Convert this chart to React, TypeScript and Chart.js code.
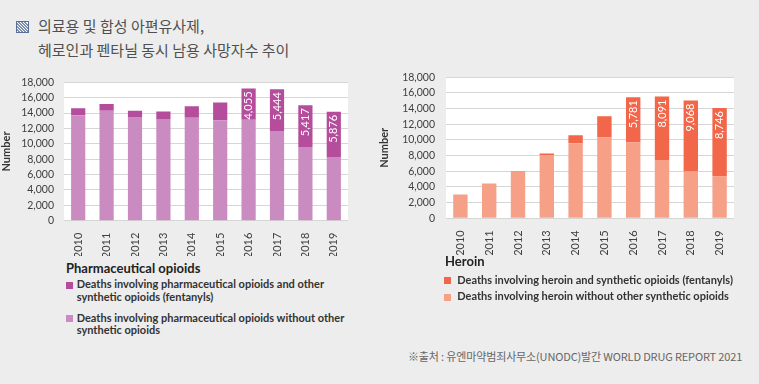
import React, { useEffect, useRef } from 'react';
import { Chart, registerables } from 'chart.js';

Chart.register(...registerables);

const years = ['2010', '2011', '2012', '2013', '2014', '2015', '2016', '2017', '2018', '2019'];
const pharmaWithout = [13700, 14300, 13490, 13230, 13400, 13060, 13140, 11660, 9600, 8290];
const pharmaWithFentanyl = [940, 890, 810, 980, 1490, 2300, 4055, 5444, 5417, 5876];
const heroinWithout = [3050, 4430, 5900, 8060, 9570, 10320, 9680, 7450, 5970, 5330];
const heroinWithFentanyl = [0, 0, 80, 210, 1040, 2710, 5781, 8091, 9068, 8746];
const labeledYears = ['2016', '2017', '2018', '2019'];
const yMax = 18000;
const yStep = 2000;

const LATIN = "Lato, 'Open Sans', sans-serif";
const KR = "'Noto Sans CJK KR', sans-serif";

const plotBg = {
  id: 'plotBg',
  beforeDraw(chart: any) {
    const { ctx, chartArea } = chart;
    ctx.save();
    ctx.fillStyle = '#ffffff';
    ctx.fillRect(chartArea.left, chartArea.top, chartArea.right - chartArea.left, chartArea.bottom - chartArea.top);
    ctx.restore();
  },
};

const segLabels = {
  id: 'segLabels',
  afterDatasetsDraw(chart: any) {
    const ctx = chart.ctx;
    const meta = chart.getDatasetMeta(1);
    const data = chart.data.datasets[1].data as number[];
    meta.data.forEach((bar: any, i: number) => {
      if (!labeledYears.includes(chart.data.labels[i])) return;
      ctx.save();
      ctx.translate(bar.x, bar.y + 3);
      ctx.rotate(-Math.PI / 2);
      ctx.textAlign = 'right';
      ctx.textBaseline = 'middle';
      ctx.fillStyle = '#ffffff';
      ctx.font = `11px ${LATIN}`;
      ctx.fillText(data[i].toLocaleString('en-US'), 0, 0);
      ctx.restore();
    });
  },
};

type Props = {
  left: number; top: number; width: number; height: number;
  lower: number[]; upper: number[];
  lowerLabel: string; upperLabel: string;
  lowerColor: string; upperColor: string;
  yAxisWidth: number; xAxisHeight: number;
  padTop: number; padRight: number; titlePad: number; tickPad: number;
};

function StackChart(p: Props) {
  const ref = useRef<HTMLCanvasElement>(null);
  useEffect(() => {
    const chart = new Chart(ref.current as HTMLCanvasElement, {
      type: 'bar',
      data: {
        labels: years,
        datasets: [
          { label: p.lowerLabel, data: p.lower, backgroundColor: p.lowerColor, stack: 's' },
          { label: p.upperLabel, data: p.upper, backgroundColor: p.upperColor, stack: 's' },
        ],
      },
      options: {
        animation: false,
        responsive: false,
        maintainAspectRatio: false,
        locale: 'en-US',
        layout: { padding: { top: p.padTop, right: p.padRight, bottom: 0, left: 0 } },
        datasets: { bar: { barPercentage: 0.5, categoryPercentage: 1 } },
        plugins: { legend: { display: false }, tooltip: { enabled: false } },
        scales: {
          x: {
            stacked: true,
            grid: { display: false },
            border: { display: false },
            ticks: {
              minRotation: 90, maxRotation: 90, padding: 4, autoSkip: false,
              color: '#404040', font: { family: LATIN, size: 11 },
            },
            afterFit: (s: any) => { s.height = p.xAxisHeight; },
          },
          y: {
            stacked: true,
            min: 0,
            max: yMax,
            ticks: {
              stepSize: yStep, autoSkip: false, padding: p.tickPad,
              color: '#404040', font: { family: LATIN, size: 10.5 },
            },
            grid: { color: '#d6d6d6', drawTicks: false },
            border: { display: false },
            title: {
              display: true, text: 'Number', color: '#333333',
              font: { family: LATIN, size: 11, weight: 'bold' },
              padding: { top: p.titlePad, bottom: 0 },
            },
            afterFit: (s: any) => { s.width = p.yAxisWidth; },
          },
        },
      } as any,
      plugins: [plotBg, segLabels],
    });
    return () => chart.destroy();
  }, []);
  return (
    <canvas
      ref={ref}
      width={p.width}
      height={p.height}
      style={{ position: 'absolute', left: p.left, top: p.top, width: p.width, height: p.height }}
    />
  );
}

const legendText: React.CSSProperties = {
  position: 'absolute', fontFamily: LATIN, fontWeight: 700, fontSize: 11,
  lineHeight: '12.7px', color: '#333333', whiteSpace: 'nowrap',
};
const legendTitle: React.CSSProperties = {
  position: 'absolute', fontFamily: LATIN, fontWeight: 700, fontSize: 13,
  lineHeight: '15px', color: '#222222', whiteSpace: 'nowrap',
};
const sq = (left: number, top: number, color: string): React.CSSProperties => ({
  position: 'absolute', left, top, width: 7, height: 7, background: color,
});

export default function App() {
  return (
    <div style={{ position: 'fixed', left: 0, top: 0, width: 759, height: 384, background: '#ededed', overflow: 'hidden' }}>
      <div style={{
        position: 'absolute', left: 16, top: 21, width: 11, height: 10,
        border: '1px solid #5b6f95',
        background: 'repeating-linear-gradient(45deg, #ffffff 0px, #ffffff 1px, #7d8fb3 1px, #7d8fb3 2.2px)',
      }} />
      <div style={{
        position: 'absolute', left: 38, top: 14, fontFamily: KR, fontSize: 15, lineHeight: '24.3px',
        color: '#505050', whiteSpace: 'nowrap',
      }}>
        의료용 및 합성 아편유사제,<br />헤로인과 펜타닐 동시 남용 사망자수 추이
      </div>

      <StackChart
        left={0} top={66} width={362} height={190}
        lower={pharmaWithout} upper={pharmaWithFentanyl}
        lowerLabel="Deaths involving pharmaceutical opioids without other synthetic opioids"
        upperLabel="Deaths involving pharmaceutical opioids and other synthetic opioids (fentanyls)"
        lowerColor="#c98bc0" upperColor="#b54c9c"
        yAxisWidth={64} xAxisHeight={35.3} padTop={13.7} padRight={14} titlePad={0} tickPad={10}
      />
      <StackChart
        left={372} top={60} width={387} height={195}
        lower={heroinWithout} upper={heroinWithFentanyl}
        lowerLabel="Deaths involving heroin without other synthetic opioids"
        upperLabel="Deaths involving heroin and synthetic opioids (fentanyls)"
        lowerColor="#f6a088" upperColor="#f26649"
        yAxisWidth={74} xAxisHeight={36.7} padTop={14.7} padRight={25} titlePad={6} tickPad={11}
      />

      <div style={{ ...legendTitle, left: 66, top: 260.7 }}>Pharmaceutical opioids</div>
      <div style={sq(66, 281.5, '#b54c9c')} />
      <div style={{ ...legendText, left: 76.7, top: 278.3 }}>
        Deaths involving pharmaceutical opioids and other<br />synthetic opioids (fentanyls)
      </div>
      <div style={sq(66, 315, '#c98bc0')} />
      <div style={{ ...legendText, left: 76.7, top: 311.6 }}>
        Deaths involving pharmaceutical opioids without other<br />synthetic opioids
      </div>

      <div style={{ ...legendTitle, left: 445, top: 254.4 }}>Heroin</div>
      <div style={sq(444, 277.3, '#f26649')} />
      <div style={{ ...legendText, left: 457.3, top: 273.6 }}>
        Deaths involving heroin and synthetic opioids (fentanyls)
      </div>
      <div style={sq(444, 294, '#f6a088')} />
      <div style={{ ...legendText, left: 457.3, top: 290.3 }}>
        Deaths involving heroin without other synthetic opioids
      </div>

      <div style={{
        position: 'absolute', left: 408, top: 349.4, fontFamily: KR, fontSize: 11, lineHeight: '14px',
        color: '#666666', whiteSpace: 'nowrap', letterSpacing: '-0.15px',
      }}>
        ※출처 : 유엔마약범죄사무소(UNODC)발간 WORLD DRUG REPORT 2021
      </div>
    </div>
  );
}
